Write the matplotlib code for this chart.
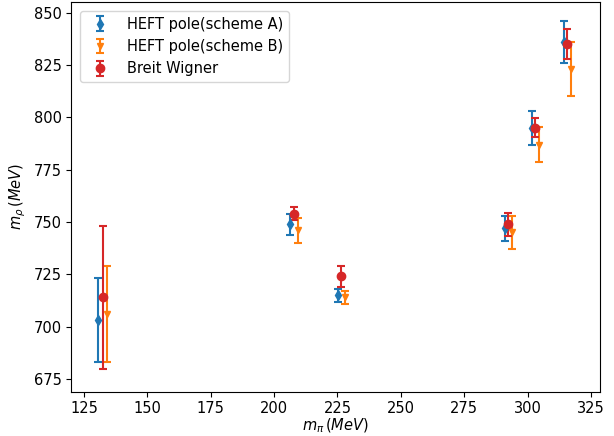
import matplotlib
matplotlib.use("Agg")
import matplotlib.pyplot as plt

# Scheme A
xa = [130.5, 206.3, 225.2, 291.1, 301.7, 314.3]
ya = [703, 749, 715, 747, 795, 836]
ea = [20, 5, 3, 6, 8, 10]
# Scheme B
xb = [134.0, 209.4, 228.0, 293.8, 304.5, 317.1]
yb = [706, 746, 714, 745, 787, 823]
eb = [23, 6, 3, 8, 8.5, 13]
# Breit Wigner
xw = [132.5, 207.8, 226.4, 292.3, 302.9, 315.5]
yw = [714, 754, 724, 749, 795, 835]
ew = [34, 3, 5, 5.5, 4.5, 7]

plt.rcParams['font.size'] = 10.5
fig = plt.figure(figsize=(6.14, 4.36), dpi=100)
ax = fig.add_axes([0.116, 0.102, 0.861, 0.893])

kw = dict(capsize=3, elinewidth=1.5, capthick=1.5)
ax.errorbar(xa, ya, yerr=ea, fmt='d', color='#1f77b4', ms=5, label='HEFT pole(scheme A)', **kw)
ax.errorbar(xb, yb, yerr=eb, fmt='v', color='#ff7f0e', ms=5, label='HEFT pole(scheme B)', **kw)
ax.errorbar(xw, yw, yerr=ew, fmt='o', color='#d62728', ms=6, label='Breit Wigner', **kw)

ax.set_xlim(120, 328.5)
ax.set_ylim(669, 855)
ax.set_xticks(range(125, 326, 25))
ax.set_yticks(range(675, 851, 25))
ax.set_xlabel(r'$m_{\pi}\,(MeV)$', labelpad=0)
ax.set_ylabel(r'$m_{\rho}\,(MeV)$')
ax.legend(loc='upper left', borderaxespad=0.6)

fig.savefig('out.png', dpi=100)
